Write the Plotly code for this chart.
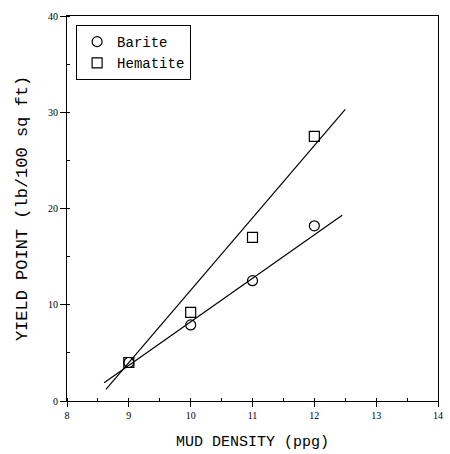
import plotly.graph_objects as go

density = [9, 10, 11, 12]
barite_yp = [4.0, 7.9, 12.5, 18.2]
hematite_yp = [4.0, 9.2, 17.0, 27.5]

barite_fit_x = [8.6, 12.45]
barite_fit_y = [1.9, 19.3]
hematite_fit_x = [8.63, 12.5]
hematite_fit_y = [1.2, 30.3]

x_ticks = [8, 9, 10, 11, 12, 13, 14]
y_ticks = [0, 10, 20, 30, 40]

mono = "Liberation Mono, DejaVu Sans Mono, monospace"
serif = "Liberation Serif, DejaVu Serif, serif"

fig = go.Figure()
fig.add_trace(go.Scatter(x=barite_fit_x, y=barite_fit_y, mode="lines",
                         line=dict(color="black", width=1.2), showlegend=False, hoverinfo="skip"))
fig.add_trace(go.Scatter(x=hematite_fit_x, y=hematite_fit_y, mode="lines",
                         line=dict(color="black", width=1.2), showlegend=False, hoverinfo="skip"))
fig.add_trace(go.Scatter(x=density, y=barite_yp, mode="markers", name="Barite",
                         marker=dict(symbol="circle-open", size=10, color="black", line=dict(width=1.2))))
fig.add_trace(go.Scatter(x=density, y=hematite_yp, mode="markers", name="Hematite",
                         marker=dict(symbol="square-open", size=10, color="black", line=dict(width=1.2))))

fig.update_layout(
    width=450, height=454,
    margin=dict(l=67, r=12, t=16, b=53, autoexpand=False),
    paper_bgcolor="white", plot_bgcolor="white",
    font=dict(family=mono, color="black", size=12),
    legend=dict(x=0.024, y=0.977, xanchor="left", yanchor="top",
                bordercolor="black", borderwidth=1.2, bgcolor="white",
                font=dict(family=mono, size=14), itemwidth=30),
    xaxis=dict(range=[8, 14], tickvals=x_ticks, ticktext=[str(v) for v in x_ticks],
               showgrid=False, zeroline=False, showline=True, linecolor="black", linewidth=1.2,
               mirror=True, ticks="outside", ticklen=5, tickcolor="black",
               tickfont=dict(family=serif, size=10), automargin=False,
               minor=dict(dtick=0.5, ticks="inside", ticklen=3, tickcolor="black"),
               title=dict(text="MUD DENSITY (ppg)", font=dict(family=mono, size=15))),
    yaxis=dict(range=[0, 40], tickvals=y_ticks, ticktext=[str(v) for v in y_ticks],
               showgrid=False, zeroline=False, showline=True, linecolor="black", linewidth=1.2,
               mirror=True, ticks="outside", ticklen=6, tickcolor="black",
               tickfont=dict(family=serif, size=10), automargin=False,
               minor=dict(dtick=5, ticks="inside", ticklen=3, tickcolor="black"),
               title=dict(text="YIELD POINT (lb/100 sq ft)", font=dict(family=mono, size=17))),
)

fig.write_html("out.html", default_width="450px", default_height="454px",
               config={"displayModeBar": False},
               post_script=("document.documentElement.style.overflow='hidden';"
                            "document.body.style.margin='0px';"
                            "document.body.style.overflow='hidden';"))
